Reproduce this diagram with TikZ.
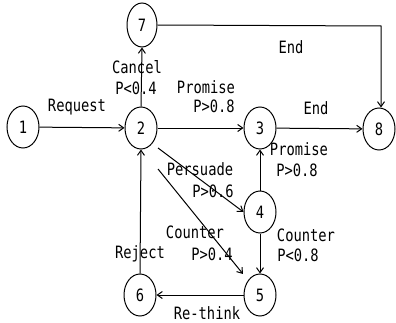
\documentclass[tikz,border=0pt]{standalone}
\usepackage{fontspec}
\newfontfamily\diafont[FakeStretch=0.81]{DejaVu Sans Mono}
\usetikzlibrary{shapes.geometric,arrows.meta}
\begin{document}
\begin{tikzpicture}[x=1pt,y=1pt,
  txt/.style={font=\diafont\fontsize{17}{19}\selectfont, inner sep=0pt},
  st/.style={draw, ellipse, line width=1pt, minimum width=32pt, minimum height=42pt, inner sep=0pt, txt},
  arr/.style={line width=1pt, -{Straight Barb[length=5pt,width=7pt]}},
  ln/.style={line width=1pt}]
\useasboundingbox (0,0) rectangle (396,322);
% states
\node[st] (n1) at (23,195) {1};
\node[st] (n2) at (141,194) {2};
\node[st, minimum width=30pt, minimum height=44pt] (n7) at (142,297) {7};
\node[st] (n3) at (260,194) {3};
\node[st] (n8) at (379,193) {8};
\node[st] (n4) at (260,110) {4};
\node[st] (n5) at (260,27) {5};
\node[st] (n6) at (140,27) {6};
% connectors
\draw[arr] (n1) -- (n2);
\draw[arr] (n2.north) -- (n7.south);
\coordinate (c78) at (381,296);
\draw[arr] (n7.east) -- (c78) -- (n8.north -| c78);
\draw[arr] (n2) -- (n3);
\draw[arr] (n3) -- (n8);
\draw[arr] (n4) -- (n3);
\draw[arr] (n4) -- (n5);
\draw[arr] (n5) -- (n6);
\draw[arr] (n6.north) -- (n2.south);
\coordinate (p0) at (158,174);
\draw[arr] (p0) -- (n4.west);
\coordinate (q0) at (158,153);
\draw[arr, shorten >=8pt] (q0) -- (n5);
% labels
\node[txt] (lReq) at (77,215) {Request};
\node[txt] (lCan) at (137,255) {Cancel};
\node[txt] (lCanP) at (136,234) {P<0.4};
\node[txt] (lPro) at (206,235) {Promise};
\node[txt] (lProP) at (214,216) {P>0.8};
\node[txt] (lEnd1) at (291,275) {End};
\node[txt] (lEnd2) at (316,214) {End};
\node[txt] (lPro2) at (299,173) {Promise};
\node[txt] (lPro2P) at (297,152) {P>0.8};
\node[txt] (lPer) at (200,153) {Persuade};
\node[txt] (lPerP) at (213,131) {P>0.6};
\node[txt] (lCo1) at (195,90) {Counter};
\node[txt] (lCo1P) at (212,68) {P>0.4};
\node[txt] (lRej) at (140,68) {Reject};
\node[txt] (lCo2) at (306,87) {Counter};
\node[txt] (lCo2P) at (298,67) {P<0.8};
\node[txt] (lRe) at (207,9) {Re-think};
\end{tikzpicture}
\end{document}
